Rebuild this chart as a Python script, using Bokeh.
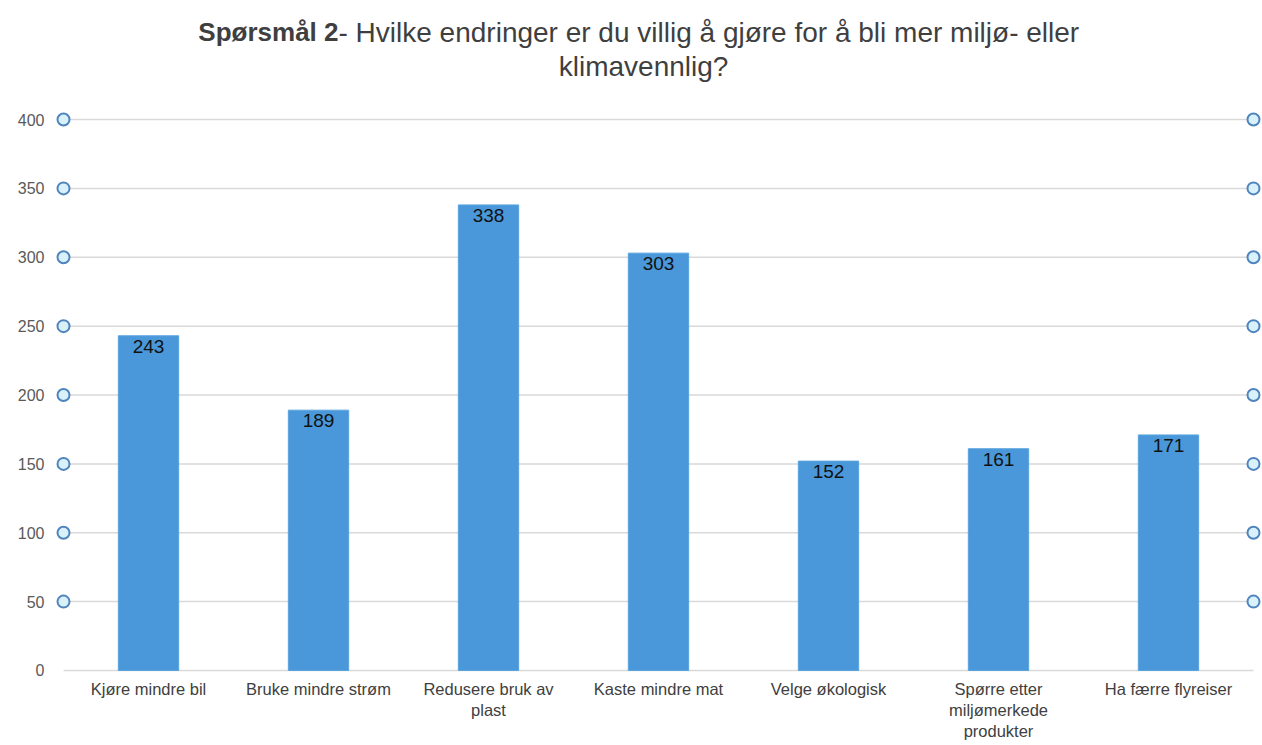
from bokeh.plotting import figure
from bokeh.models import FixedTicker, ColumnDataSource
from bokeh.core.properties import value
from bokeh.embed import file_html
from bokeh.resources import INLINE

categories = ["Kjøre mindre bil", "Bruke mindre strøm", "Redusere bruk av\nplast",
              "Kaste mindre mat", "Velge økologisk", "Spørre etter\nmiljømerkede\nprodukter",
              "Ha færre flyreiser"]
counts = [243, 189, 338, 303, 152, 161, 171]
y_ticks = [0, 50, 100, 150, 200, 250, 300, 350, 400]
title_bold = "Spørsmål 2"
title_rest = "- Hvilke endringer er du villig å gjøre for å bli mer miljø- eller"
title_line2 = "klimavennlig?"

W, H = 1262, 745
p = figure(width=W, height=H, output_backend="svg", toolbar_location=None,
           x_range=(-0.553, 6.553), y_range=(-54.45, 486.4),
           x_axis_location=None, y_axis_location="left",
           min_border_left=54, min_border_right=0, min_border_top=0, min_border_bottom=0)
p.outline_line_color = None
p.background_fill_color = "white"
p.border_fill_color = "white"
p.xgrid.visible = False
p.ygrid.visible = False

xs = list(range(len(categories)))
FONT = value("Liberation Sans")

# gridlines
grid_src = ColumnDataSource(dict(y=y_ticks, x0=[-0.5] * len(y_ticks), x1=[6.5] * len(y_ticks)))
p.segment(x0="x0", x1="x1", y0="y", y1="y", source=grid_src, line_color="#d9d9d9", line_width=1.5)

# bars
p.vbar(x=xs, top=counts, width=0.355, fill_color="#4a98d9", line_color="#5aa4de", line_width=1)

# data labels
p.text(x=xs, y=counts, text=[str(c) for c in counts], text_align="center", text_baseline="top",
       y_offset=4, text_font=FONT, text_font_size="19px", text_color="#111111")

# circles at gridline ends (except 0)
circ_y = [t for t in y_ticks if t > 0]
p.scatter(x=[-0.5] * len(circ_y), y=circ_y, size=12, fill_color="#d8f1fa", line_color="#4f84bd", line_width=2)
p.scatter(x=[6.5] * len(circ_y), y=circ_y, size=12, fill_color="#d8f1fa", line_color="#4f84bd", line_width=2)

# category labels
p.text(x=xs, y=[-7.26] * len(xs), text=categories, text_align="center", text_baseline="top",
       text_font=FONT, text_font_size="16.5px", text_color="#404040", text_line_height=1.15)

# y axis
p.yaxis.ticker = FixedTicker(ticks=y_ticks)
p.yaxis.axis_line_color = None
p.yaxis.major_tick_line_color = None
p.yaxis.minor_tick_line_color = None
p.yaxis.major_label_standoff = 4
p.yaxis.major_label_text_font = "Liberation Sans"
p.yaxis.major_label_text_font_size = "16px"
p.yaxis.major_label_text_color = "#595959"

# title
p.text(x=[1.1176], y=[463.2], text=[title_bold], text_align="right", text_baseline="middle",
       text_font=FONT, text_font_style="bold", text_font_size="26px", text_color="#3f3f3f")
p.text(x=[1.1176], y=[463.2], text=[title_rest], text_align="left", text_baseline="middle",
       text_font=FONT, text_font_size="28px", text_color="#3f3f3f")
p.text(x=[2.912], y=[438.5], text=[title_line2], text_align="center", text_baseline="middle",
       text_font=FONT, text_font_size="28px", text_color="#3f3f3f")

open("out.html", "w").write(file_html(p, INLINE))
